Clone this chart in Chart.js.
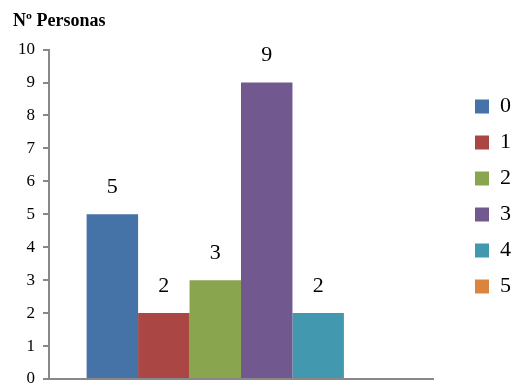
<!DOCTYPE html>
<html>
<head>
<meta charset="utf-8">
<script src="https://cdn.jsdelivr.net/npm/chart.js@4/dist/chart.umd.min.js"></script>
<style>
  html, body { margin: 0; padding: 0; background: #fff; }
  #wrap { width: 511px; height: 387px; }
</style>
</head>
<body>
<div id="wrap"><canvas id="myChart"></canvas></div>
<script>
const seriesNames = ['0', '1', '2', '3', '4', '5'];
const seriesValues = [5, 2, 3, 9, 2, 0];
const seriesColors = ['#4572A7', '#AA4643', '#89A54E', '#71588F', '#4198AF', '#DB843D'];
const yTicks = [0, 1, 2, 3, 4, 5, 6, 7, 8, 9, 10];
const serif = "'Liberation Serif', 'Times New Roman', serif";

// value labels above each bar
const barLabels = {
    id: 'barLabels',
    afterDatasetsDraw(chart) {
        const ctx = chart.ctx;
        ctx.save();
        ctx.fillStyle = '#000';
        ctx.font = '22px ' + serif;
        ctx.textAlign = 'center';
        ctx.textBaseline = 'middle';
        chart.data.datasets.forEach((ds, i) => {
            const bar = chart.getDatasetMeta(i).data[0];
            if (!ds.data[0]) return;
            ctx.fillText(ds.data[0], bar.x, bar.y - 27);
        });
        ctx.restore();
    }
};

// push the legend a bit further right than chart.js puts it
const legendShift = {
    id: 'legendShift',
    afterLayout(chart) {
        const lg = chart.legend;
        lg.left += 28; lg.right += 28;
    }
};

const ctx = document.getElementById('myChart').getContext('2d');
const myChart = new Chart(ctx, {
    type: 'bar',
    data: {
        labels: [''],
        datasets: seriesNames.map((name, i) => ({
            label: name,
            data: [seriesValues[i]],
            backgroundColor: seriesColors[i],
            borderWidth: 0,
            barPercentage: 1,
            categoryPercentage: 0.804
        }))
    },
    options: {
        responsive: true,
        maintainAspectRatio: false,
        animation: false,
        layout: { padding: { left: 13, right: 18, top: 6, bottom: 0 } },
        plugins: {
            tooltip: { enabled: false },
            title: {
                display: true,
                text: 'Nº Personas',
                align: 'start',
                color: '#000',
                font: { family: serif, size: 18, weight: 'bold' },
                padding: { top: 5, bottom: 17 }
            },
            legend: {
                position: 'right',
                labels: {
                    color: '#000',
                    font: { family: serif, size: 22 },
                    boxWidth: 14,
                    boxHeight: 14,
                    padding: 14
                }
            }
        },
        scales: {
            x: {
                afterFit: (scale) => { scale.height = 0; },
                ticks: { display: false },
                grid: { display: false, drawTicks: false },
                border: { display: true, color: '#888', width: 2 }
            },
            y: {
                min: 0,
                max: 10,
                afterBuildTicks: (scale) => { scale.ticks = yTicks.map(v => ({ value: v })); },
                afterFit: (scale) => { scale.width = 36; scale.paddingBottom = 8; },
                ticks: {
                    color: '#000',
                    font: { family: serif, size: 17 },
                    padding: 8
                },
                grid: { drawOnChartArea: false, color: '#888', tickLength: 6, lineWidth: 2 },
                border: { display: true, color: '#888', width: 2 }
            }
        }
    },
    plugins: [barLabels, legendShift]
});
</script>
</body>
</html>
